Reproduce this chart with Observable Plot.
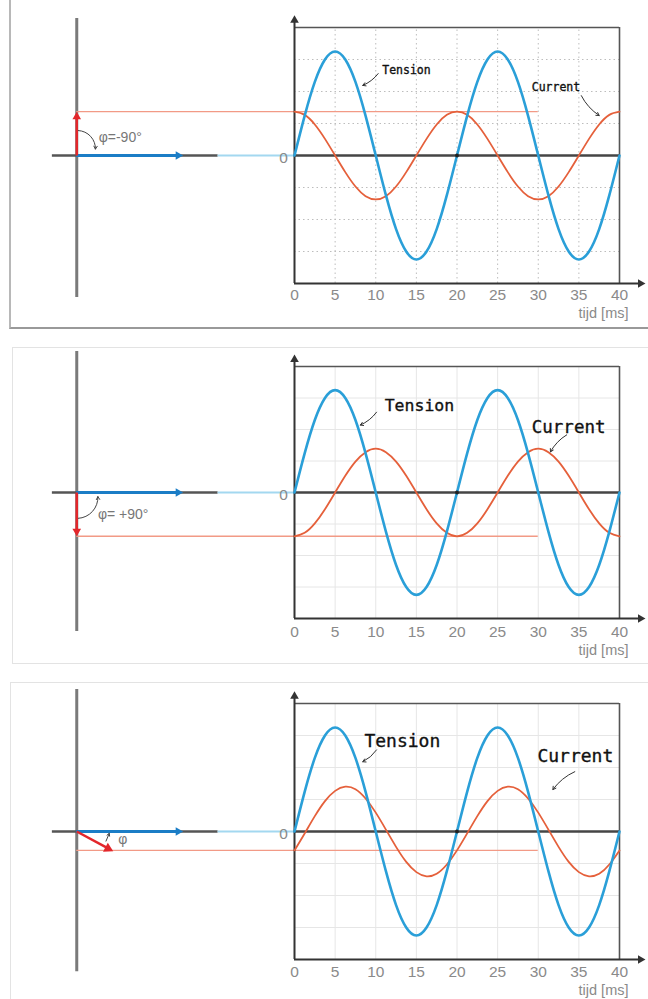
<!DOCTYPE html>
<html><head><meta charset="utf-8">
<script src="https://cdn.jsdelivr.net/npm/d3@7"></script>
<script src="https://cdn.jsdelivr.net/npm/@observablehq/plot@0.6"></script>
<style>
html,body{margin:0;padding:0;background:#fff;}
#page{position:relative;width:648px;height:999px;overflow:hidden;background:#fff;}
.panel{position:absolute;left:0;}
.frame{position:absolute;box-sizing:border-box;}
</style></head><body><div id="page"></div>
<script>
// ---------------- data ----------------
const timeMs = [0,1.25,2.5,3.75,5,6.25,7.5,8.75,10,11.25,12.5,13.75,15,16.25,17.5,18.75,20,
  21.25,22.5,23.75,25,26.25,27.5,28.75,30,31.25,32.5,33.75,35,36.25,37.5,38.75,40];
const tension = [0,1.24,2.30,3.00,3.25,3.00,2.30,1.24,0,-1.24,-2.30,-3.00,-3.25,-3.00,-2.30,-1.24,0,
  1.24,2.30,3.00,3.25,3.00,2.30,1.24,0,-1.24,-2.30,-3.00,-3.25,-3.00,-2.30,-1.24,0];
const currentPhiMinus90 = [1.37,1.27,0.97,0.52,0,-0.52,-0.97,-1.27,-1.37,-1.27,-0.97,-0.52,0,0.52,0.97,1.27,1.37,
  1.27,0.97,0.52,0,-0.52,-0.97,-1.27,-1.37,-1.27,-0.97,-0.52,0,0.52,0.97,1.27,1.37];
const currentPhiPlus90 = [-1.39,-1.28,-0.98,-0.53,0,0.53,0.98,1.28,1.39,1.28,0.98,0.53,0,-0.53,-0.98,-1.28,-1.39,
  -1.28,-0.98,-0.53,0,0.53,0.98,1.28,1.39,1.28,0.98,0.53,0,-0.53,-0.98,-1.28,-1.39];
const currentPhi = [-0.59,-0.06,0.48,0.95,1.27,1.40,1.32,1.03,0.59,0.06,-0.48,-0.95,-1.27,-1.40,-1.32,-1.03,-0.59,
  -0.06,0.48,0.95,1.27,1.40,1.32,1.03,0.59,0.06,-0.48,-0.95,-1.27,-1.40,-1.32,-1.03,-0.59];
const xTicks = [0,5,10,15,20,25,30,35,40];
const gridTimes = [5,10,15,20,25,30,35];
const gridLevels = [-3,-2,-1,1,2,3];
const yTickLabel = "0";
const xAxisLabel = "tijd [ms]";
const seriesNames = ["Tension","Current"];
const phaseTexts = ["φ=-90°","φ= +90°","φ"];

// ---------------- layout ----------------
const PH_X = -26.8;           // phasor origin (in chart x units)
const BLUE = "#2a9fd8", BLUE_PH = "#1b7dc6", RED = "#e5603b", RED_PH = "#e3262b", RED_LINE = "#f29a86";

const panels = [
  {top:0, h:335, mt:27, mb:52, current: currentPhiMinus90, dotted:true, vaxis:[4.28,-4.44],
   redTip:[PH_X,1.37], redEnd:[PH_X,1.22], redRot:0, redD:[0,5], redR:3.2, tickDy:12,
   tension:{x:10.8,y:2.66,size:11.5, a:[10.3,2.56,8.4,2.19]},
   cur:{x:29.2,y:2.12,size:11.5, a:[35.3,1.87,37.5,1.25]},
   phase:{text:phaseTexts[0], x:-24.1, y:0.56, size:14, a:[-26.6,0.78,-24.5,0.2], bend:45}},
  {top:335, h:333, mt:31, mb:50, current: currentPhiPlus90, dotted:false, vaxis:[4.48,-4.41],
   redTip:[PH_X,-1.39], redEnd:[PH_X,-1.24], redRot:180, redD:[0,-5], redR:3.2, tickDy:14,
   tension:{x:11.1,y:2.77,size:16.5, a:[10.1,2.55,8.1,2.14]},
   cur:{x:29.2,y:2.08,size:17.5, a:[33.5,1.83,31.5,1.29]},
   phase:{text:phaseTexts[1], x:-24.2, y:-0.69, size:14, a:[-26.6,-0.82,-24.2,-0.13], bend:-45}},
  {top:668, h:331, mt:35, mb:40, current: currentPhi, dotted:false, vaxis:[4.44,-4.38],
   redTip:[-22.3,-0.62], redEnd:[-23.0,-0.52], redRot:118, redD:[-5.3,-2.8], redR:3.8, tickDy:13,
   tension:{x:8.6,y:2.83,size:18, a:[10.1,2.55,8.4,2.18]},
   cur:{x:29.9,y:2.34,size:18, a:[34.5,1.87,31.8,1.31]},
   phase:{text:phaseTexts[2], x:-21.7, y:-0.25, size:14, a:[-23.2,-0.3,-22.8,-0.06], bend:0}}
];

const frames = [
  {left:9, top:-4, width:650, height:333, css:"border-left:2px solid #b8b8b8;border-bottom:2px solid #999;"},
  {left:12, top:347, width:640, height:317, css:"border:1px solid #e3e3e3;"},
  {left:10, top:682, width:640, height:330, css:"border:1px solid #e3e3e3;"}
];

const page = document.getElementById("page");
for (const f of frames) {
  const d = document.createElement("div");
  d.className = "frame";
  d.style.cssText = `left:${f.left}px;top:${f.top}px;width:${f.width}px;height:${f.height}px;` + f.css;
  page.appendChild(d);
}

const tri = (pt, rot, d, fill, r=3.2) => Plot.dot([pt], {x: p => p[0], y: p => p[1], symbol: "triangle",
  r, fill, stroke: null, rotate: rot, dx: d[0], dy: d[1]});

function panel(p) {
  const rows = timeMs.map((t, i) => ({t, v: tension[i], c: p.current[i]}));
  const gridStyle = p.dotted ? {stroke:"#bdbdbd", strokeWidth:1, strokeDasharray:"1.5,3"}
                             : {stroke:"#e6e6e6", strokeWidth:1};
  const mono = "DejaVu Sans Mono, monospace";
  const sans = "Liberation Sans, Arial, sans-serif";
  const lbl = {textAnchor: "start", fontFamily: mono, fill: "#111", stroke: "#111", strokeWidth: 0.35};
  return Plot.plot({
    width: 648, height: p.h, marginLeft: 294, marginRight: 29, marginTop: p.mt, marginBottom: p.mb,
    x: {domain: [0, 40], axis: null},
    y: {domain: [-4, 4], axis: null},
    style: {background: "transparent", overflow: "visible"},
    marks: [
      // grid
      Plot.ruleX(gridTimes, {y1: -4, y2: 4, ...gridStyle}),
      Plot.ruleY(gridLevels, {x1: 0, x2: 40, ...gridStyle}),
      // frame top / right
      Plot.ruleY([4], {x1: 0, x2: 40, stroke: "#555", strokeWidth: 1.6}),
      Plot.ruleX([40], {y1: -4, y2: 4, stroke: "#555", strokeWidth: 1.6}),
      // phasor diagram axes
      Plot.ruleX([PH_X], {y1: p.vaxis[0], y2: p.vaxis[1], stroke: "#7a7a7a", strokeWidth: 3}),
      Plot.ruleY([0], {x1: -29.8, x2: -9.4, stroke: "#555", strokeWidth: 2.5}),
      Plot.ruleY([0], {x1: -9.4, x2: 0, stroke: "#a3d8f0", strokeWidth: 2}),
      // current projection line
      Plot.ruleY([p.current[0]], {x1: PH_X, x2: 30, stroke: RED_LINE, strokeWidth: 1.4}),
      // tension phasor
      Plot.ruleY([0], {x1: PH_X, x2: -14.4, stroke: BLUE_PH, strokeWidth: 3}),
      tri([-13.7, 0], 90, [-5, 0], BLUE_PH),
      // current phasor
      Plot.link([p], {x1: PH_X, y1: 0, x2: d => d.redEnd[0], y2: d => d.redEnd[1], stroke: RED_PH, strokeWidth: 2.5}),
      tri(p.redTip, p.redRot, p.redD, RED_PH, p.redR),
      // zero line
      Plot.ruleY([0], {x1: 0, x2: 40, stroke: "#454545", strokeWidth: 2.5}),
      // axes with arrows
      Plot.ruleX([0], {y1: -4, y2: 4.2, stroke: "#333", strokeWidth: 2}),
      tri([0, 4.38], 0, [0, 5], "#333"),
      Plot.ruleY([-4], {x1: 0, x2: 42.6, stroke: "#333", strokeWidth: 2}),
      tri([43.2, -4], 90, [-5, 0], "#333"),
      // curves
      Plot.line(rows, {x: "t", y: "c", stroke: RED, strokeWidth: 1.8, curve: "natural"}),
      Plot.line(rows, {x: "t", y: "v", stroke: BLUE, strokeWidth: 2.6, curve: "natural"}),
      Plot.dot([[20, 0]], {x: d => d[0], y: d => d[1], r: 2, fill: "#222", stroke: null}),
      // tick labels
      Plot.text(xTicks, {x: d => d, y: -4, dy: p.tickDy, text: d => String(d), fill: "#8a8a8a",
        fontSize: 15.5, fontFamily: sans}),
      Plot.text([xAxisLabel], {x: 40, y: -4, dx: 9, dy: p.tickDy + 18, textAnchor: "end", fill: "#8a8a8a",
        fontSize: 14.5, fontFamily: sans}),
      Plot.text([yTickLabel], {x: 0, y: 0, dx: -11, dy: 3, fill: "#8a8a8a", fontSize: 15.5, fontFamily: sans}),
      // series labels + pointers
      Plot.text([seriesNames[0]], {x: p.tension.x, y: p.tension.y, fontSize: p.tension.size, ...lbl}),
      Plot.arrow([p.tension.a], {x1: d => d[0], y1: d => d[1], x2: d => d[2], y2: d => d[3], bend: 15,
        stroke: "#333", strokeWidth: 1, headLength: 5}),
      Plot.text([seriesNames[1]], {x: p.cur.x, y: p.cur.y, fontSize: p.cur.size, ...lbl}),
      Plot.arrow([p.cur.a], {x1: d => d[0], y1: d => d[1], x2: d => d[2], y2: d => d[3], bend: -15,
        stroke: "#333", strokeWidth: 1, headLength: 5}),
      // phase annotation
      Plot.text([p.phase.text], {x: p.phase.x, y: p.phase.y, textAnchor: "start", fontSize: p.phase.size,
        fontFamily: sans, fill: "#777"}),
      Plot.arrow([p.phase.a], {x1: d => d[0], y1: d => d[1], x2: d => d[2], y2: d => d[3], bend: p.phase.bend,
        stroke: "#444", strokeWidth: 1, headLength: 5})
    ]
  });
}

for (const p of panels) {
  const svg = panel(p);
  const wrap = document.createElement("div");
  wrap.className = "panel";
  wrap.style.top = p.top + "px";
  wrap.appendChild(svg);
  page.appendChild(wrap);
}
</script></body></html>
